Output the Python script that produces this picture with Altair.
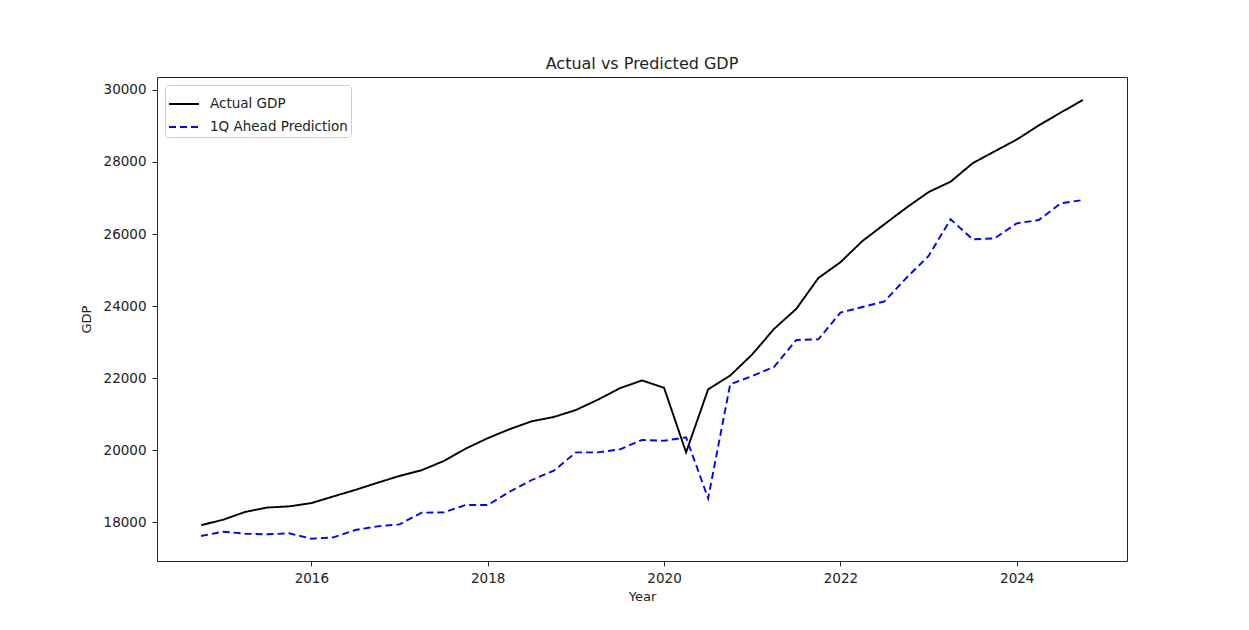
import altair as alt
import pandas as pd

quarters = ["2014Q4",
            "2015Q1", "2015Q2", "2015Q3", "2015Q4",
            "2016Q1", "2016Q2", "2016Q3", "2016Q4",
            "2017Q1", "2017Q2", "2017Q3", "2017Q4",
            "2018Q1", "2018Q2", "2018Q3", "2018Q4",
            "2019Q1", "2019Q2", "2019Q3", "2019Q4",
            "2020Q1", "2020Q2", "2020Q3", "2020Q4",
            "2021Q1", "2021Q2", "2021Q3", "2021Q4",
            "2022Q1", "2022Q2", "2022Q3", "2022Q4",
            "2023Q1", "2023Q2", "2023Q3", "2023Q4",
            "2024Q1", "2024Q2", "2024Q3", "2024Q4"]

actual_gdp = [17912,
              18063, 18280, 18402, 18435,
              18525, 18711, 18892, 19090,
              19280, 19438, 19692, 20037,
              20328, 20580, 20798, 20917,
              21111, 21398, 21717, 21933,
              21728, 19935, 21685, 22068,
              22657, 23369, 23921, 24777,
              25215, 25806, 26272, 26734,
              27164, 27454, 27967, 28297,
              28624, 29017, 29375, 29723]

predicted_gdp = [17611,
                 17731, 17675, 17658, 17686,
                 17537, 17574, 17778, 17880,
                 17935, 18259, 18269, 18472,
                 18472, 18843, 19167, 19426,
                 19935, 19935, 20019, 20278,
                 20259, 20352, 18658, 21825,
                 22056, 22315, 23056, 23075,
                 23815, 23972, 24130, 24786,
                 25389, 26408, 25852, 25880,
                 26297, 26389, 26852, 26944]

series_names = ["Actual GDP", "1Q Ahead Prediction"]
series_colors = ["black", "blue"]
x_ticks = [2016, 2018, 2020, 2022, 2024]
y_ticks = [18000, 20000, 22000, 24000, 26000, 28000, 30000]


def q_to_year(q):
    y, n = q.split("Q")
    return int(y) + (int(n) - 1) * 0.25


rows = []
for q, a, p in zip(quarters, actual_gdp, predicted_gdp):
    rows.append({"Year": q_to_year(q), "GDP": a, "series": series_names[0]})
    rows.append({"Year": q_to_year(q), "GDP": p, "series": series_names[1]})
df = pd.DataFrame(rows)

FONT = "DejaVu Sans"


def make_legend():
    return alt.Legend(title=None, orient="none", legendX=8, legendY=8,
                      fillColor="white", strokeColor="#d0d0d0",
                      cornerRadius=3, padding=3,
                      symbolType="stroke", symbolSize=900,
                      symbolStrokeWidth=2, labelFontSize=13.5,
                      labelFont=FONT, labelColor="#222",
                      rowPadding=-2, labelOffset=10)


chart = alt.Chart(df).mark_line(strokeWidth=1.9, clip=True).encode(
    x=alt.X("Year:Q",
            scale=alt.Scale(domain=[2014.25, 2025.25], nice=False, zero=False),
            axis=alt.Axis(values=x_ticks, format="d", title="Year", grid=False,
                          domain=False, tickColor="#222", tickSize=5,
                          labelFontSize=13.5, titleFontSize=13, labelPadding=5,
                          titlePadding=6, labelColor="#222", titleColor="#222",
                          labelFont=FONT, titleFont=FONT, titleFontWeight="normal",
                          labelFlush=False)),
    y=alt.Y("GDP:Q",
            scale=alt.Scale(domain=[16917, 30361], nice=False, zero=False),
            axis=alt.Axis(values=y_ticks, format="d", title="GDP", grid=False,
                          domain=False, tickColor="#222", tickSize=5,
                          labelFontSize=13.5, titleFontSize=13, labelPadding=6,
                          titlePadding=10, labelColor="#222", titleColor="#222",
                          labelFont=FONT, titleFont=FONT, titleFontWeight="normal")),
    color=alt.Color("series:N",
                    scale=alt.Scale(domain=series_names, range=series_colors),
                    legend=make_legend()),
    strokeDash=alt.StrokeDash("series:N",
                              scale=alt.Scale(domain=series_names, range=[[1, 0], [7, 4]]),
                              legend=make_legend()),
).properties(
    width=970,
    height=484,
    title=alt.TitleParams("Actual vs Predicted GDP", fontSize=16, font=FONT,
                          fontWeight="normal", color="#222", offset=5),
    autosize=alt.AutoSizeParams(type="none"),
    padding={"left": 157, "top": 77, "right": 122, "bottom": 69},
).configure(
    background="white",
    view=alt.ViewConfig(stroke="#222", strokeWidth=1),
)

chart.save("out.html", embed_options={"renderer": "svg", "actions": False})
